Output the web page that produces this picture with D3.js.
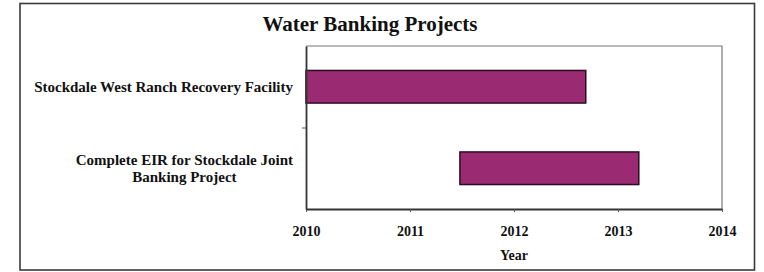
<!DOCTYPE html>
<html><head><meta charset="utf-8">
<script src="https://cdn.jsdelivr.net/npm/d3@7"></script>
<style>body{margin:0;background:#fff}svg{display:block}</style>
</head><body><svg id="c" width="764" height="272"></svg>
<script>
const categories = [["Stockdale West Ranch Recovery Facility"], ["Complete EIR for Stockdale Joint", "Banking Project"]];
const startYears = [2010, 2011.48];
const endYears = [2012.69, 2013.2];
const xTicks = [2010, 2011, 2012, 2013, 2014];
const title = "Water Banking Projects";
const xTitle = "Year";

const svg = d3.select("#c");
const font = "'Liberation Serif','Times New Roman',serif";
const M = {left: 306, right: 722, top: 46, bottom: 209};

svg.append("rect").attr("x", 20).attr("y", 3.5).attr("width", 734.5).attr("height", 266.5)
  .attr("fill", "#fff").attr("stroke", "#3a3a3a").attr("stroke-width", 1.6);

const x = d3.scaleLinear().domain([2010, 2014]).range([M.left, M.right]);
const idx = categories.map((d, i) => i);
const y = d3.scaleBand().domain(idx).range([M.top, M.bottom]).paddingInner(0.6).paddingOuter(0.3);
const yl = d3.scaleLinear().domain([0, categories.length]).range([M.top, M.bottom]);

// plot frame top/right
svg.append("path").attr("d", `M${M.left},${M.top}H${M.right}V${M.bottom}`)
  .attr("fill", "none").attr("stroke", "#777").attr("stroke-width", 1.2);

// bars
svg.selectAll("rect.bar").data(idx).enter().append("rect").attr("class", "bar")
  .attr("x", i => x(startYears[i])).attr("y", i => y(i))
  .attr("width", i => x(endYears[i]) - x(startYears[i])).attr("height", y.bandwidth())
  .attr("fill", "#9a2a72").attr("stroke", "#2e0d24").attr("stroke-width", 1.5);

// x axis
const gx = svg.append("g").attr("transform", `translate(0,${M.bottom})`)
  .call(d3.axisBottom(x).tickValues(xTicks).tickFormat(d3.format("d")).tickSize(3).tickSizeOuter(0).tickPadding(14));
gx.select(".domain").attr("stroke", "#333").attr("stroke-width", 1.8);
gx.selectAll(".tick line").attr("stroke", "#555");
gx.selectAll("text").attr("font-family", font).attr("font-weight", "bold").attr("font-size", 14).attr("fill", "#111");

// y axis
const gy = svg.append("g").attr("transform", `translate(${M.left},0)`)
  .call(d3.axisLeft(yl).tickValues(d3.range(1, categories.length)).tickFormat("").tickSize(4).tickSizeOuter(0));
gy.select(".domain").attr("stroke", "#333").attr("stroke-width", 1.8);
gy.selectAll(".tick line").attr("stroke", "#555");

// category labels
const lh = 17.5;
idx.forEach(i => {
  const lines = categories[i];
  const cy = y(i) + y.bandwidth() / 2;
  const g = svg.append("g");
  const ts = lines.map((t, k) => g.append("text").text(t)
    .attr("font-family", font).attr("font-weight", "bold").attr("font-size", 15).attr("fill", "#111")
    .attr("text-anchor", "middle").attr("dominant-baseline", "central")
    .attr("y", cy + (k - (lines.length - 1) / 2) * lh));
  const w = d3.max(ts, t => t.node().getComputedTextLength());
  ts.forEach(t => t.attr("x", 293 - w / 2));
});

// title
svg.append("text").text(title).attr("x", 370).attr("y", 31)
  .attr("text-anchor", "middle").attr("font-family", font).attr("font-weight", "bold")
  .attr("font-size", 21).attr("fill", "#111");

// x title
svg.append("text").text(xTitle).attr("x", x(2012)).attr("y", 260)
  .attr("text-anchor", "middle").attr("font-family", font).attr("font-weight", "bold")
  .attr("font-size", 14).attr("fill", "#111");
</script></body></html>
